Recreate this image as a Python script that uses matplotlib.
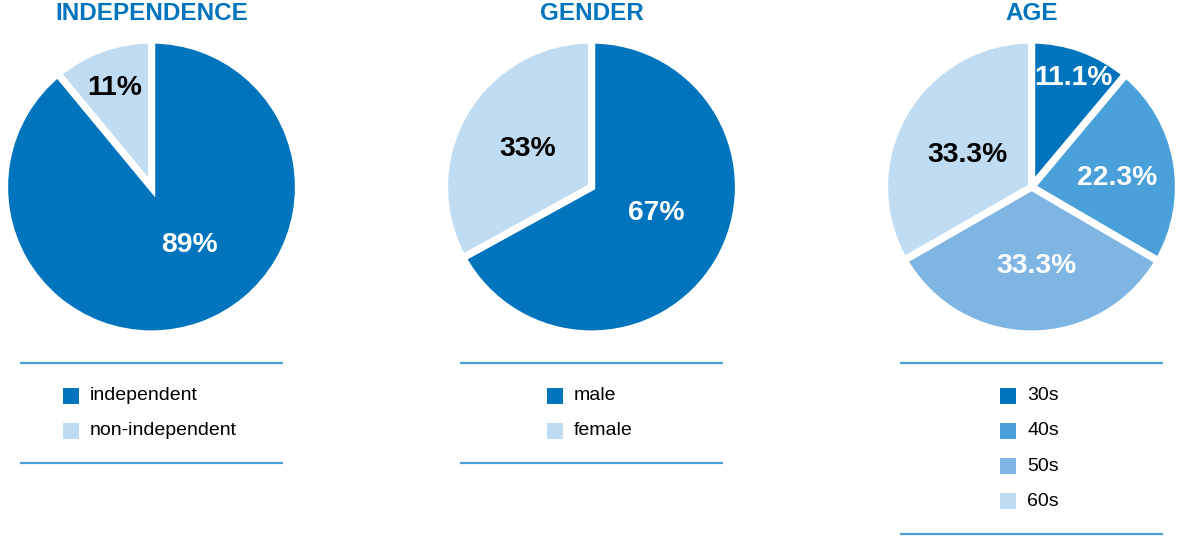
import matplotlib.pyplot as plt
from matplotlib.patches import Rectangle

# chart data
titles = ['INDEPENDENCE', 'GENDER', 'AGE']
independence_labels = ['independent', 'non-independent']
independence_values = [89, 11]
independence_text = ['89%', '11%']
gender_labels = ['male', 'female']
gender_values = [67, 33]
gender_text = ['67%', '33%']
age_labels = ['30s', '40s', '50s', '60s']
age_values = [11.1, 22.3, 33.3, 33.3]
age_text = ['11.1%', '22.3%', '33.3%', '33.3%']

plt.rcParams['font.family'] = ['Liberation Sans', 'DejaVu Sans']

dark = '#0075be'
mid = '#4aa1d9'
soft = '#7fb5e3'
light = '#c0dcf3'
rule_color = '#4a9fd8'

W, H = 1184, 536
fig = plt.figure(figsize=(W / 100, H / 100), dpi=100)
ax = fig.add_axes([0, 0, 1, 1])

charts = [
    (independence_values, independence_labels, independence_text, [dark, light],
     [(0.255, -0.374), (-0.248, 0.694)], ['white', 'black']),
    (gender_values, gender_labels, gender_text, [dark, light],
     [(0.439, -0.156), (-0.432, 0.279)], ['white', 'black']),
    (age_values, age_labels, age_text, [dark, mid, soft, light],
     [(0.282, 0.762), (0.582, 0.082), (0.031, -0.517), (-0.432, 0.238)],
     ['white', 'white', 'white', 'black']),
]

radius = 147
cy = H - 187
cap_half = 10  # half cap height of the percentage labels, px
for i, (vals, labs, txts, cols, offs, tcols) in enumerate(charts):
    cx = 151.5 + 440 * i
    ax.pie(vals, colors=cols, startangle=90, counterclock=False,
           center=(cx, cy), radius=radius,
           wedgeprops=dict(edgecolor='white', linewidth=5.2))
    for t, (dx, dy), tc in zip(txts, offs, tcols):
        ax.text(cx + dx * radius, cy + dy * radius - cap_half, t, color=tc,
                fontsize=20.3, fontweight='bold', ha='center', va='baseline')
    ax.text(cx, H - 13, titles[i], color=dark, fontsize=17.5, fontweight='bold',
            ha='center', va='center')

    # legend block
    x0 = 20 + 440 * i
    top_rule = H - 362.5
    ax.plot([x0, x0 + 263], [top_rule, top_rule], color=rule_color, lw=1.6,
            solid_capstyle='butt')
    sq_x = [63, 547, 1000][i]
    row_y = H - 395.5
    for k, (lab, col) in enumerate(zip(labs, cols)):
        y = row_y - 35.3 * k
        ax.add_patch(Rectangle((sq_x, y - 8), 16, 16, facecolor=col,
                               edgecolor='none'))
        ax.text(sq_x + 27, y, lab, fontsize=14, color='black',
                ha='left', va='center')
    bot_rule = row_y - 35.3 * (len(labs) - 1) - 32.5
    ax.plot([x0, x0 + 263], [bot_rule, bot_rule], color=rule_color, lw=1.6,
            solid_capstyle='butt')

ax.set_xlim(0, W)
ax.set_ylim(0, H)
ax.set_aspect('equal')
ax.axis('off')

fig.savefig('out.png', dpi=100)
